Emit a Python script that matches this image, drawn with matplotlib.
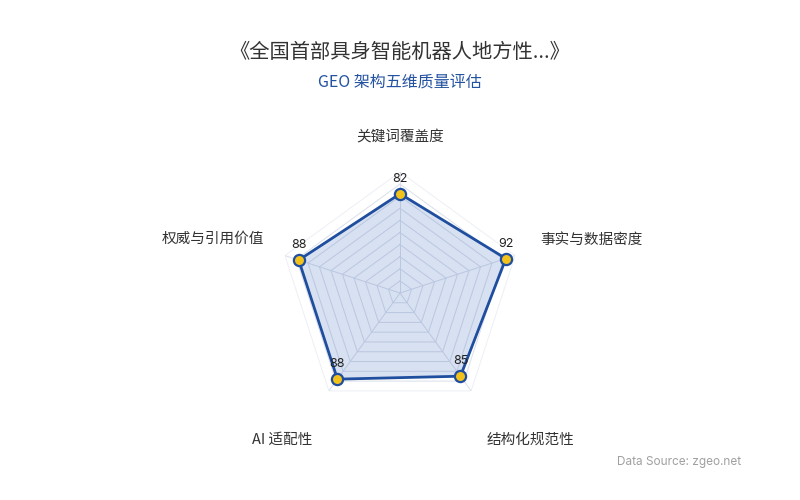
import numpy as np
import matplotlib
matplotlib.use("Agg")
from matplotlib import pyplot as plt

plt.rcParams['font.family'] = ['Noto Sans CJK SC', 'DejaVu Sans']

# data
categories = ["关键词覆盖度", "事实与数据密度", "结构化规范性", "AI 适配性", "权威与引用价值"]
scores = [82, 92, 85, 88, 88]
max_score = 100
rings = np.arange(10, 101, 10)

title = "《全国首部具身智能机器人地方性...》"
subtitle = "GEO 架构五维质量评估"
source = "Data Source: zgeo.net"

line_blue = "#1f4e9f"
dot_yellow = "#f2c21b"

fig = plt.figure(figsize=(8, 5), dpi=100)
fig.patch.set_facecolor("white")

ax = fig.add_axes([0.34875, 0.172, 0.3025, 0.484], projection="polar")
ax.set_theta_offset(np.pi / 2)
ax.set_theta_direction(-1)
ax.set_ylim(0, max_score)
ax.grid(False)
ax.spines["polar"].set_visible(False)
ax.set_xticks([])
ax.set_yticks([])
ax.patch.set_alpha(0)

n = len(categories)
theta = np.linspace(0, 2 * np.pi, n, endpoint=False)
theta_closed = np.append(theta, theta[0])

# pentagon grid
for r in rings:
    col = "#eceff5" if r == max_score else "#d9dfea"
    ax.plot(theta_closed, [r] * (n + 1), color=col, lw=0.7, zorder=1)
for t in theta:
    ax.plot([t, t], [0, max_score], color="#d9dfea", lw=0.7, zorder=1)

# series
vals = np.append(scores, scores[0])
ax.fill(theta_closed, vals, color="#2a5bb5", alpha=0.18, lw=0, zorder=2)
ax.plot(theta_closed, vals, color=line_blue, lw=2, zorder=3)
ax.scatter(theta, scores, s=65, color=dot_yellow, edgecolor=line_blue,
           linewidth=1.6, zorder=4, clip_on=False)

for t, v in zip(theta, scores):
    ax.annotate(str(v), xy=(t, v), xytext=(0, 6.5), textcoords="offset points",
                ha="center", va="bottom", fontsize=9, color="#222222",
                family=["Inter", "DejaVu Sans"], annotation_clip=False)

# axis names
name_offsets = [(0, 25), (18, 11.5), (11, -35), (-12, -35), (-15, 12)]
name_ha = ["center", "left", "left", "right", "right"]
for t, name, off, ha in zip(theta, categories, name_offsets, name_ha):
    ax.annotate(name, xy=(t, max_score), xytext=off, textcoords="offset points",
                ha=ha, va="center", fontsize=10.5, color="#333333",
                annotation_clip=False)

fig.text(0.5, 0.896, title, ha="center", va="center", fontsize=14.6, color="#333333")
fig.text(0.5, 0.836, subtitle, ha="center", va="center", fontsize=11.5, color="#2352a0")
fig.text(0.927, 0.076, source, ha="right", va="center", fontsize=8.5,
         color="#a0a0a0", family=["Inter", "DejaVu Sans"])

fig.savefig("out.png", dpi=100, facecolor="white")
